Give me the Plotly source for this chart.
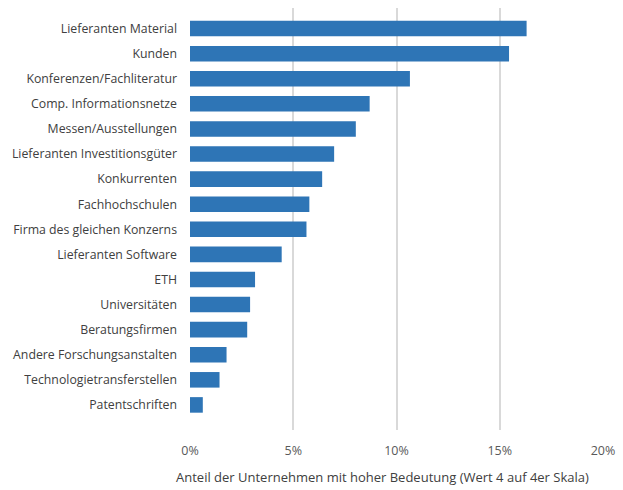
import plotly.graph_objects as go

categories = [
    "Lieferanten Material",
    "Kunden",
    "Konferenzen/Fachliteratur",
    "Comp. Informationsnetze",
    "Messen/Ausstellungen",
    "Lieferanten Investitionsgüter",
    "Konkurrenten",
    "Fachhochschulen",
    "Firma des gleichen Konzerns",
    "Lieferanten Software",
    "ETH",
    "Universitäten",
    "Beratungsfirmen",
    "Andere Forschungsanstalten",
    "Technologietransferstellen",
    "Patentschriften",
]
shares = [16.3, 15.45, 10.65, 8.7, 8.03, 6.98, 6.4, 5.78, 5.64, 4.44,
          3.15, 2.91, 2.77, 1.77, 1.43, 0.62]
x_ticks = [0, 5, 10, 15, 20]
x_title = "Anteil der Unternehmen mit hoher Bedeutung (Wert 4 auf 4er Skala)"

font_family = "Open Sans, Noto Sans, sans-serif"

fig = go.Figure(
    go.Bar(
        x=shares,
        y=categories,
        orientation="h",
        marker=dict(color="#2E75B6", line=dict(width=0)),
        width=0.62,
        hoverinfo="x+y",
    )
)

fig.update_layout(
    width=623,
    height=490,
    margin=dict(l=190, r=14, t=8, b=60),
    paper_bgcolor="white",
    plot_bgcolor="white",
    showlegend=False,
    font=dict(family=font_family, size=12, color="#404040"),
    xaxis=dict(
        range=[0, 20],
        tickvals=x_ticks,
        ticktext=[f"{v}%" for v in x_ticks],
        showgrid=True,
        gridcolor="#D9D9D9",
        gridwidth=1.5,
        zeroline=False,
        showline=False,
        ticks="",
        ticklabelstandoff=11,
        tickfont=dict(size=12.5, color="#595959"),
        fixedrange=True,
    ),
    yaxis=dict(
        range=[16.0, -0.82],
        showgrid=False,
        zeroline=False,
        showline=False,
        ticks="",
        ticklabelstandoff=12,
        tickfont=dict(size=12.3, color="#404040"),
        fixedrange=True,
    ),
    annotations=[
        dict(
            text=x_title,
            xref="paper",
            yref="paper",
            x=0.465,
            y=-0.111,
            xanchor="center",
            yanchor="middle",
            showarrow=False,
            font=dict(size=13, color="#404040", family=font_family),
        )
    ],
)

fig.write_html("out.html")
